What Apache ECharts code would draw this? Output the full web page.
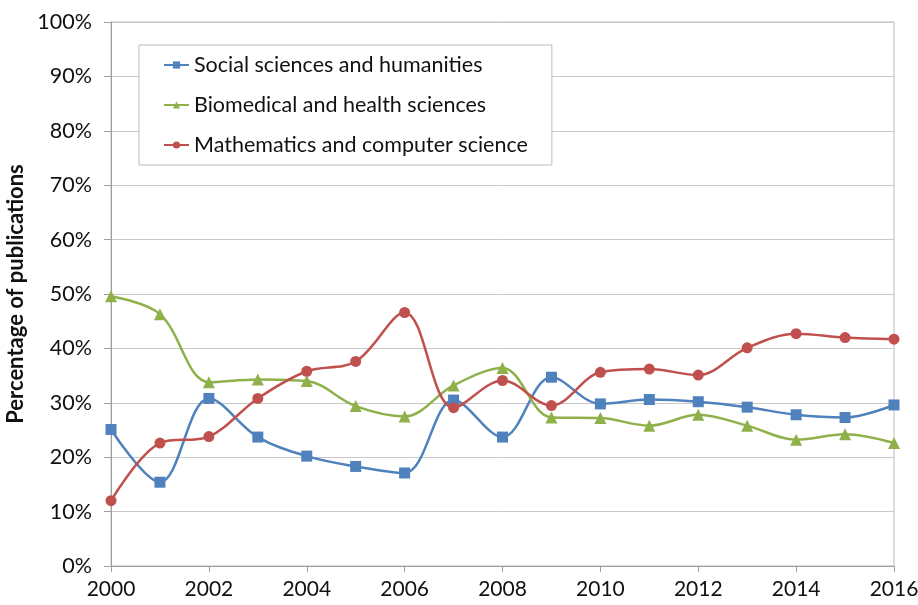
<!DOCTYPE html>
<html>
<head>
<meta charset="utf-8">
<script src="https://cdn.jsdelivr.net/npm/echarts@6/dist/echarts.min.js"></script>
<style>html,body{margin:0;padding:0;background:#fff}#c{width:918px;height:605px}</style>
</head>
<body>
<div id="c"></div>
<script>
const years = ['2000','2001','2002','2003','2004','2005','2006','2007','2008','2009','2010','2011','2012','2013','2014','2015','2016'];
const social = [25.1,15.4,30.8,23.7,20.2,18.3,17.1,30.5,23.7,34.7,29.8,30.6,30.2,29.2,27.8,27.3,29.6];
const biomedical = [49.6,46.3,33.8,34.3,34.0,29.4,27.5,33.2,36.4,27.3,27.2,25.8,27.8,25.8,23.2,24.2,22.6];
const mathcs = [12.0,22.6,23.8,30.8,35.8,37.6,46.6,29.1,34.1,29.5,35.6,36.2,35.1,40.1,42.7,42.0,41.7];
const names = ['Social sciences and humanities','Biomedical and health sciences','Mathematics and computer science'];

const font = 'Lato, "Open Sans", sans-serif';
const chart = echarts.init(document.getElementById('c'));
function mk(name, data, color, symbol, size){
  return {name, type:'line', data, smooth:0.35, symbol, symbolSize:size,
    lineStyle:{color, width:2.5}, itemStyle:{color}, z: 3};
}
chart.setOption({
  animation:false,
  grid:{left:111,right:24,top:22,bottom:39,show:true,borderColor:'#bdbdbd',borderWidth:1,
        containLabel:false, outerBoundsMode:'none'},
  legend:{
    orient:'vertical', left:139, top:45, padding:[9,24,9,24], itemGap:18,
    borderColor:'#bdbdbd', borderWidth:1, backgroundColor:'#fff',
    itemWidth:25, itemHeight:9,
    textStyle:{fontFamily:font, fontSize:21.5, color:'#111', lineHeight:22},
    data:names
  },
  xAxis:{
    type:'category', data:years, boundaryGap:false,
    axisLine:{lineStyle:{color:'#9e9e9e'}},
    axisTick:{length:6, interval:1, lineStyle:{color:'#9e9e9e'}},
    axisLabel:{interval:1, fontFamily:font, fontSize:21, color:'#111', margin:13},
    splitLine:{show:false}
  },
  yAxis:{
    type:'value', min:0, max:100, interval:10,
    name:'Percentage of publications', nameLocation:'middle', nameGap:79,
    nameTextStyle:{fontFamily:font, fontSize:22, fontWeight:'bold', color:'#111'},
    axisLine:{show:true, lineStyle:{color:'#9e9e9e'}},
    axisTick:{show:true, length:7, lineStyle:{color:'#9e9e9e'}},
    axisLabel:{formatter:'{value}%', fontFamily:font, fontSize:21.5, color:'#111', margin:19},
    splitLine:{lineStyle:{color:'#c8c8c8', width:1}}
  },
  series:[
    mk(names[0], social, '#4f81bd', 'rect', 11),
    mk(names[1], biomedical, '#8fb14a', 'triangle', 12),
    mk(names[2], mathcs, '#c0504d', 'circle', 11)
  ]
});
</script>
</body>
</html>
